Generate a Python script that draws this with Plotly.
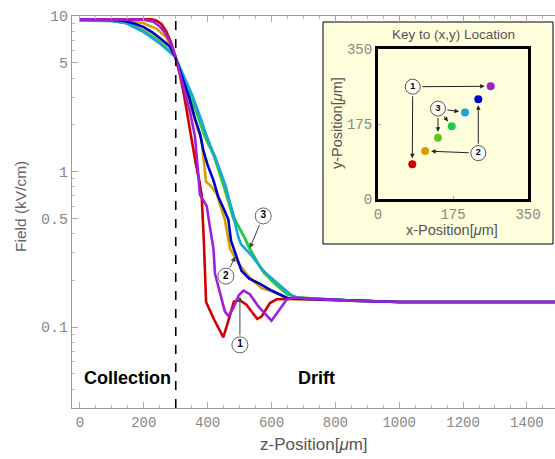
import numpy as np
import plotly.graph_objects as go

# ---------------- data ----------------
red_x = [0, 100, 150, 200, 225, 240, 255, 270, 285, 298, 312, 326, 340, 350, 362, 375, 381, 388, 395,
         420, 449, 465, 482, 501, 522, 555, 569, 595, 616, 658, 700, 850, 1000, 1500]
red_y = [9.55, 9.55, 9.55, 9.6, 9.55, 9.35, 8.9, 8.0, 6.8, 5.6, 4.3, 3.1, 2.1, 1.6, 1.15, 0.85, 0.71, 0.36, 0.145,
         0.112, 0.086, 0.11, 0.146, 0.149, 0.139, 0.113, 0.117, 0.143, 0.151, 0.152, 0.152, 0.148, 0.145, 0.145]

gold_x = [0, 100, 150, 200, 240, 270, 298, 318, 337, 355, 370, 381, 395, 407, 428, 454, 470, 496, 530, 569,
          605, 658, 700, 850, 1000, 1500]
gold_y = [9.5, 9.45, 9.3, 9.0, 8.3, 7.3, 5.5, 4.2, 3.1, 2.3, 1.85, 1.6, 0.86, 0.82, 0.725, 0.49, 0.32, 0.257, 0.21, 0.178,
          0.169, 0.152, 0.151, 0.147, 0.145, 0.145]

lime_x = [0, 100, 150, 200, 250, 298, 322, 346, 368, 389, 420, 452, 480, 500, 515, 528, 545, 575, 610, 650,
          680, 850, 1000, 1500]
lime_y = [9.45, 9.35, 9.05, 8.1, 6.9, 5.5, 4.1, 3.05, 2.3, 1.72, 1.25, 0.78, 0.5, 0.43, 0.38, 0.33, 0.28, 0.225, 0.19, 0.162,
          0.155, 0.148, 0.145, 0.145]

green_x = [0, 100, 146, 198, 250, 298, 325, 349, 370, 391, 423, 454, 486, 506, 532, 564, 600, 647, 680, 850, 1000, 1500]
green_y = [9.4, 9.3, 9.0, 7.95, 6.7, 5.5, 4.0, 3.05, 2.3, 1.7, 1.25, 0.8, 0.49, 0.41, 0.32, 0.245, 0.2, 0.165, 0.155,
           0.148, 0.145, 0.145]

cyan_x = [0, 100, 146, 198, 250, 298, 328, 353, 375, 399, 438, 457, 475, 496, 505, 537, 574, 620, 668, 700, 850, 1000, 1500]
cyan_y = [9.4, 9.3, 9.0, 7.95, 6.7, 5.5, 4.0, 3.05, 2.3, 1.65, 1.03, 0.8, 0.57, 0.38, 0.34, 0.29, 0.23, 0.19, 0.157,
          0.154, 0.148, 0.145, 0.145]

blue_x = [0, 100, 140, 167, 200, 229, 255, 282, 298, 320, 342, 360, 376, 386, 400, 418, 433, 450, 465, 473, 486, 506,
          530, 564, 600, 652, 700, 850, 1000, 1500]
blue_y = [9.5, 9.45, 9.3, 9.0, 8.5, 7.8, 7.1, 6.35, 5.5, 4.0, 3.0, 2.2, 1.75, 1.38, 1.1, 0.88, 0.69, 0.58, 0.49, 0.36, 0.30, 0.23,
          0.205, 0.19, 0.172, 0.153, 0.152, 0.148, 0.145, 0.145]

purple_x = [0, 200, 230, 250, 265, 280, 298, 315, 332, 345, 360, 376, 385, 397, 407, 418, 423, 440, 454, 465, 480, 497,
            512, 532, 560, 600, 621, 647, 668, 700, 850, 1000, 1500]
purple_y = [9.5, 9.5, 9.2, 8.6, 7.9, 7.0, 5.6, 4.1, 3.0, 2.4, 1.7, 0.71, 0.66, 0.6, 0.44, 0.32, 0.22, 0.16, 0.126, 0.118, 0.132, 0.16,
            0.172, 0.163, 0.135, 0.11, 0.126, 0.15, 0.155, 0.153, 0.148, 0.145, 0.145]

series_names = ["red", "gold", "lime", "green", "cyan", "blue", "purple"]
series_colors = ["#D40000", "#D4A000", "#66C41C", "#1FC94F", "#1AA7D8", "#0000CD", "#A020D8"]
series_x = [red_x, gold_x, lime_x, green_x, cyan_x, blue_x, purple_x]
series_y = [red_y, gold_y, lime_y, green_y, cyan_y, blue_y, purple_y]

# inset key (x,y) locations in µm, same order as series
key_x = [80, 110, 140, 172, 203, 234, 263]
key_y = [81, 112, 143, 170, 202, 233, 263]

# circled labels in inset
key_label_text = ["1", "2", "3"]
key_label_x = [81, 234, 140]
key_label_y = [262, 107, 211]
# arrows: (label index, series index)
key_arrows = [(0, 6), (0, 0), (1, 5), (1, 1), (2, 4), (2, 2), (2, 3)]

# circled labels in main plot and their arrow tips
main_label_text = ["1", "2", "3"]
main_label_x = [501, 457, 574]
main_label_y = [0.0769, 0.213, 0.519]
main_tip_x = [501, 486, 532]
main_tip_y = [0.157, 0.284, 0.322]

y_major = [0.1, 0.5, 1, 5, 10]
y_major_text = ["0.1", "0.5", "1", "5", "10"]
y_minor = [0.04, 0.05, 0.06, 0.07, 0.08, 0.09, 0.2, 0.3, 0.4, 0.6, 0.7, 0.8, 0.9,
           2, 3, 4, 6, 7, 8, 9]
x_major = [0, 200, 400, 600, 800, 1000, 1200, 1400]
boundary_z = 300

# ---------------- figure ----------------
W, H = 555, 459
L, R, T, B = 72, 0, 16, 51
pw, ph = W - L - R, H - T - B

def px2paper(px, py):
    return (px - L) / pw, (H - B - py) / ph

fig = go.Figure()

for nm, col, xs, ys in zip(series_names, series_colors, series_x, series_y):
    fig.add_trace(go.Scatter(x=xs, y=ys, mode="lines", name=nm,
                             line=dict(color=col, width=2.6), showlegend=False,
                             hoverinfo="skip"))

# main circled labels
fig.add_trace(go.Scatter(x=main_label_x, y=main_label_y, mode="markers+text",
                         text=["<b>%s</b>" % t for t in main_label_text], textposition="middle center",
                         textfont=dict(family="Liberation Sans", size=10, color="black"),
                         marker=dict(size=16, color="white", line=dict(color="#666", width=1)),
                         showlegend=False, cliponaxis=False, hoverinfo="skip"))

# inset dots
fig.add_trace(go.Scatter(x=key_x, y=key_y, mode="markers", xaxis="x2", yaxis="y2",
                         marker=dict(size=8, color=series_colors),
                         showlegend=False, hoverinfo="skip"))
fig.add_trace(go.Scatter(x=key_label_x, y=key_label_y, mode="markers+text", xaxis="x2", yaxis="y2",
                         text=["<b>%s</b>" % t for t in key_label_text], textposition="middle center",
                         textfont=dict(family="Liberation Sans", size=9, color="black"),
                         marker=dict(size=15, color="white", line=dict(color="#555", width=1)),
                         showlegend=False, hoverinfo="skip", cliponaxis=False))

annotations = []
for t, lx, ly, tx, ty in zip(main_label_text, main_label_x, main_label_y, main_tip_x, main_tip_y):
    annotations.append(dict(x=tx, y=np.log10(ty), ax=lx, ay=np.log10(ly), xref="x", yref="y",
                            axref="x", ayref="y", text="", showarrow=True, arrowhead=2,
                            arrowsize=1, arrowwidth=1, arrowcolor="#444", startstandoff=8, standoff=0))
for li, si in key_arrows:
    annotations.append(dict(x=key_x[si], y=key_y[si], ax=key_label_x[li], ay=key_label_y[li],
                            xref="x2", yref="y2", axref="x2", ayref="y2", text="", showarrow=True,
                            arrowhead=2, arrowsize=0.9, arrowwidth=1, arrowcolor="#222",
                            startstandoff=8, standoff=6))

def add_text(txt, px, py, size, color="#555", bold=False, angle=0, family="Liberation Sans"):
    x, y = px2paper(px, py)
    annotations.append(dict(x=x, y=y, xref="paper", yref="paper", text=("<b>%s</b>" % txt) if bold else txt,
                            showarrow=False, textangle=angle, xanchor="center", yanchor="middle",
                            font=dict(family=family, size=size, color=color)))

add_text("Field (kV/cm)", 20, 207, 15.5, color="#666", angle=-90)
add_text("z-Position[<i>μ</i>m]", 314, 444, 17, color="#555")
add_text("Key to (x,y) Location", 453, 35, 13.5, color="#555")
add_text("x-Position[<i>μ</i>m]", 452, 230, 14.5, color="#555")
add_text("y-Position[<i>μ</i>m]", 337, 123, 14.5, color="#555", angle=-90)

annotations.append(dict(x=150, y=px2paper(0, 390)[1], xref="x", yref="paper", text="<b>Collection</b>",
                        showarrow=False, font=dict(family="Liberation Sans", size=18, color="black")))
annotations.append(dict(x=741, y=px2paper(0, 390)[1], xref="x", yref="paper", text="<b>Drift</b>",
                        showarrow=False, font=dict(family="Liberation Sans", size=18, color="black")))

bx0, by1 = px2paper(323, 22)
bx1, by0 = px2paper(553, 244)
shapes = [
    dict(type="rect", xref="paper", yref="paper", x0=bx0, x1=bx1, y0=by0, y1=by1,
         fillcolor="#FFFEDD", line=dict(color="black", width=1), layer="below"),
    dict(type="line", xref="x", yref="paper", x0=boundary_z, x1=boundary_z, y0=0, y1=1,
         line=dict(color="black", width=1.6, dash="dash")),
]

ix0, iy1 = px2paper(378, 49)
ix1, iy0 = px2paper(528, 199)

mono = dict(family="Liberation Mono", size=14, color="#888")
fig.update_layout(
    width=W, height=H, margin=dict(l=L, r=R, t=T, b=B, autoexpand=False), autosize=False,
    paper_bgcolor="white", plot_bgcolor="rgba(0,0,0,0)",
    shapes=shapes, annotations=annotations,
    xaxis=dict(range=[-25, 1488], showgrid=False, zeroline=False, showline=True, linecolor="#999",
               linewidth=1, mirror="allticks", ticks="inside", ticklen=6, tickcolor="#aaa",
               tickvals=x_major, tickfont=mono, ticklabelstandoff=1, automargin=False,
               minor=dict(dtick=50, tick0=0, ticks="inside", ticklen=3, tickcolor="#bbb")),
    yaxis=dict(type="log", range=[-1.52, 1.001], showgrid=False, zeroline=False, showline=True,
               linecolor="#999", linewidth=1, mirror=False, ticks="inside", ticklen=6, tickcolor="#aaa",
               tickvals=y_major, ticktext=y_major_text, automargin=False,
               tickfont=dict(family="Liberation Mono", size=15, color="#888"),
               minor=dict(tickvals=y_minor, ticks="inside", ticklen=3, tickcolor="#bbb")),
    xaxis2=dict(domain=[ix0, ix1], anchor="y2", range=[0, 350], showgrid=False, zeroline=False,
                showline=True, linecolor="black", linewidth=3, mirror=True, ticks="inside", ticklen=3,
                tickcolor="#aaa", tickvals=[0, 175, 350], tickfont=mono, automargin=False),
    yaxis2=dict(domain=[iy0, iy1], anchor="x2", range=[0, 350], showgrid=False, zeroline=False,
                showline=True, linecolor="black", linewidth=3, mirror=True, ticks="inside", ticklen=3,
                tickcolor="#aaa", tickvals=[0, 175, 350], tickfont=mono, automargin=False),
)

fig.write_html("out.html")
